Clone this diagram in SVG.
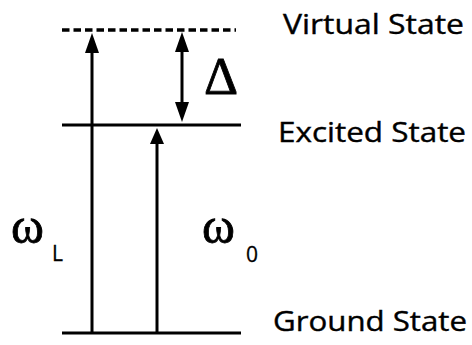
<svg xmlns="http://www.w3.org/2000/svg" width="472" height="345" viewBox="0 0 472 345">
<style>
.lvl{stroke:#000;stroke-width:3;fill:none}
.dash{stroke:#000;stroke-width:3.5;stroke-dasharray:7.5 4;fill:none}
.arr{stroke:#000;stroke-width:3;fill:none}
.head{fill:#000}
.lab{font-family:"Open Sans","Noto Sans",sans-serif;font-size:28px;fill:#000;stroke:#000;stroke-width:0.4}
.sym{font-family:"Liberation Serif","Times New Roman",serif;fill:#000;stroke:#000;stroke-width:0.8}
.sub{font-family:"Open Sans","Noto Sans",sans-serif;font-size:21px;fill:#000;stroke:#000;stroke-width:0.3}
</style>
<rect width="472" height="345" fill="#fff"/>
<g id="virtual-state">
<line class="dash" x1="62" y1="30" x2="236" y2="30"/>
<text class="lab" x="283" y="34" textLength="181" lengthAdjust="spacingAndGlyphs">Virtual State</text>
</g>
<g id="excited-state">
<line class="lvl" x1="62" y1="125" x2="241" y2="125"/>
<text class="lab" x="278" y="142" textLength="188" lengthAdjust="spacingAndGlyphs">Excited State</text>
</g>
<g id="ground-state">
<line class="lvl" x1="62" y1="333" x2="241" y2="333"/>
<text class="lab" x="273" y="331" textLength="194" lengthAdjust="spacingAndGlyphs">Ground State</text>
</g>
<g id="connectors">
<line class="arr" x1="92" y1="333" x2="92" y2="50"/>
<polygon class="head" points="92,33 85,53 99,53"/>
<line class="arr" x1="157" y1="333" x2="157" y2="140"/>
<polygon class="head" points="157,128 150,144 164,144"/>
<line class="arr" x1="182" y1="48" x2="182" y2="106"/>
<polygon class="head" points="182,32 175,52 189,52"/>
<polygon class="head" points="182,122 175,102 189,102"/>
</g>
<g id="label-delta">
<text class="sym" x="204" y="94" font-size="53">Δ</text>
</g>
<g id="label-omega-L">
<text class="sym" x="11" y="243" font-size="50">ω</text>
<text class="sub" x="52" y="261">L</text>
</g>
<g id="label-omega-0">
<text class="sym" x="202" y="243" font-size="50">ω</text>
<text class="sub" x="246" y="262">0</text>
</g>
</svg>
